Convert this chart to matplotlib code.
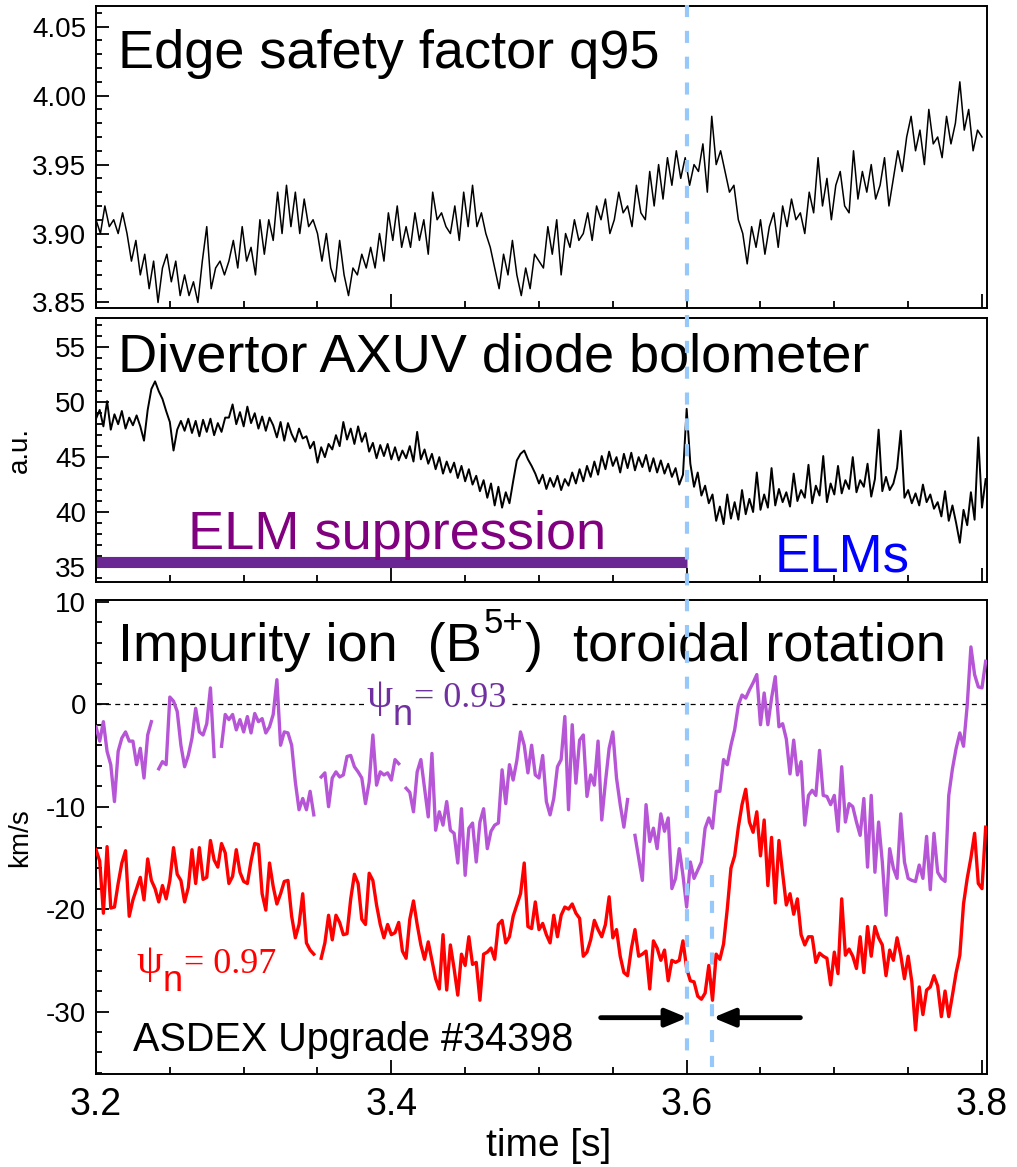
import numpy as np
import matplotlib
matplotlib.use("Agg")
import matplotlib.pyplot as plt
from matplotlib.ticker import MultipleLocator
from matplotlib.lines import Line2D
from matplotlib.transforms import blended_transform_factory

plt.rcParams['font.family'] = ['Liberation Sans', 'DejaVu Sans']
plt.rcParams['axes.unicode_minus'] = False

nan = float('nan')

# edge safety factor q95, sampled every 3 ms from 3.2 s to 3.8 s
q95 = [
    3.91, 3.90, 3.92, 3.905, 3.91, 3.90, 3.915, 3.90, 3.88, 3.895,
    3.87, 3.885, 3.86, 3.88, 3.85, 3.875, 3.885, 3.865, 3.88, 3.855,
    3.87, 3.855, 3.865, 3.85, 3.88, 3.905, 3.86, 3.875, 3.88, 3.87,
    3.88, 3.895, 3.875, 3.905, 3.88, 3.89, 3.87, 3.91, 3.885, 3.91,
    3.895, 3.93, 3.90, 3.935, 3.905, 3.93, 3.90, 3.925, 3.905, 3.91,
    3.90, 3.88, 3.90, 3.875, 3.865, 3.895, 3.87, 3.855, 3.875, 3.87,
    3.885, 3.875, 3.89, 3.875, 3.90, 3.88, 3.915, 3.895, 3.92, 3.89,
    3.905, 3.89, 3.915, 3.895, 3.91, 3.885, 3.93, 3.91, 3.915, 3.905,
    3.90, 3.92, 3.895, 3.93, 3.905, 3.935, 3.905, 3.915, 3.90, 3.89,
    3.875, 3.86, 3.885, 3.87, 3.895, 3.87, 3.855, 3.875, 3.86, 3.885,
    3.88, 3.875, 3.905, 3.885, 3.91, 3.87, 3.90, 3.89, 3.91, 3.895,
    3.90, 3.915, 3.895, 3.92, 3.91, 3.925, 3.90, 3.91, 3.93, 3.915,
    3.92, 3.905, 3.935, 3.915, 3.91, 3.945, 3.92, 3.95, 3.925, 3.955,
    3.935, 3.96, 3.94, 3.955, 3.935, 3.95, 3.945, 3.965, 3.93, 3.985,
    3.95, 3.96, 3.945, 3.93, 3.935, 3.91, 3.90, 3.878, 3.905, 3.89,
    3.91, 3.885, 3.905, 3.915, 3.89, 3.92, 3.905, 3.925, 3.91, 3.915,
    3.90, 3.93, 3.915, 3.955, 3.92, 3.94, 3.91, 3.935, 3.945, 3.92,
    3.915, 3.96, 3.925, 3.945, 3.93, 3.95, 3.925, 3.935, 3.955, 3.92,
    3.94, 3.96, 3.945, 3.97, 3.985, 3.96, 3.975, 3.95, 3.99, 3.965,
    3.97, 3.955, 3.985, 3.965, 3.98, 4.01, 3.975, 3.99, 3.96, 3.975,
    3.97,
]

# divertor AXUV diode bolometer (a.u.), every 2.5 ms
bolo = [
    48.5, 49.3, 47.8, 50.1, 47.5, 48.9, 48.0, 49.2, 47.6, 48.6, 47.9, 48.8,
    47.8, 46.5, 49.3, 51.2, 51.9, 51.0, 50.3, 49.2, 48.2, 45.6, 47.5, 48.3,
    47.4, 48.5, 47.2, 48.3, 46.9, 48.4, 47.3, 48.5, 47.0, 48.1, 47.3, 48.6,
    48.6, 49.8, 48.0, 49.1, 47.8, 49.6, 48.1, 49.0, 47.6, 48.7, 47.4, 48.6,
    47.9, 46.8, 48.2, 46.5, 48.1, 47.1, 46.4, 47.6, 46.7, 46.9, 45.8, 46.4,
    44.5, 45.9, 45.0, 46.2, 45.7, 47.0, 46.0, 48.2, 46.6, 47.6, 46.2, 47.8,
    46.4, 47.2, 45.5, 46.3, 44.9, 46.1, 45.1, 46.2, 44.8, 45.9, 44.7, 45.6,
    44.9, 46.0, 44.6, 47.3, 44.8, 45.7, 44.4, 45.3, 43.9, 45.0, 43.5, 44.6,
    43.6, 44.5, 43.1, 44.2, 42.8, 43.9, 42.5, 43.3, 41.9, 42.9, 41.3, 42.6,
    40.6, 42.3, 40.4, 41.8, 40.8, 42.8, 44.7, 45.3, 45.6, 44.8, 44.2, 43.5,
    42.6, 43.4, 42.1, 43.1, 42.3, 43.3, 42.0, 43.0, 42.4, 43.6, 42.6, 43.9,
    42.8, 44.2, 43.2, 44.6, 43.4, 45.1, 43.9, 45.5, 44.2, 45.0, 43.6, 45.3,
    44.0, 45.4, 43.8, 45.0, 44.1, 45.2, 43.7, 44.9, 43.6, 44.7, 43.5, 44.4,
    43.2, 44.0, 42.5, 43.4, 49.4, 44.4, 42.3, 43.6, 41.5, 42.4, 40.8, 41.6,
    39.2, 40.5, 38.9, 41.6, 39.4, 40.9, 39.3, 42.0, 39.8, 41.2, 40.0, 43.6,
    40.2, 41.6, 40.4, 44.0, 40.6, 42.1, 40.9, 41.8, 40.5, 43.5, 41.0, 42.0,
    41.3, 44.3, 40.8, 42.4, 41.5, 45.1, 40.9, 42.6, 41.6, 44.2, 41.7, 42.9,
    42.1, 45.0, 41.8, 42.9, 42.3, 44.4, 41.4, 43.0, 47.5, 41.9, 43.2, 42.0,
    42.6, 44.0, 47.4, 41.3, 42.0, 40.8, 41.7, 40.6, 42.5, 40.9, 41.6, 40.3,
    40.9, 39.6, 41.9, 39.2, 40.6, 39.0, 37.2, 40.2, 38.8, 41.8, 39.3, 46.8,
    40.4, 43.0,
]

# B5+ toroidal rotation (km/s) at psi_n = 0.93 and 0.97, every 2.5 ms
vrot_093 = [
    -2.2, -3.6, -1.7, -4.6, -5.9, -9.5, -4.6, -3.3, -2.7, -3.6,
    -3.6, -5.9, -4.3, -7.2, -3.0, -1.7, nan, -6.3, -5.6, -5.9,
    0.7, 0.3, -0.7, -4.0, -6.1, -5.0, -3.3, -0.4, -2.7, -3.0,
    -1.9, 1.6, -5.1, nan, -4.1, -1.0, -1.5, -1.0, -2.5, -1.5,
    -2.7, -1.2, -2.8, -0.9, -1.7, -1.4, -2.8, -2.2, -1.0, 2.4,
    -4.0, -2.7, -2.8, -4.0, -7.6, -10.3, -9.2, -10.3, -8.5, -10.8,
    nan, -7.1, -6.7, -10.0, -7.2, -6.6, -7.1, -6.9, -5.1, -5.0,
    -6.1, -6.6, -7.2, -9.7, -7.6, -3.0, -7.9, -6.6, -6.9, -6.7,
    -7.4, -5.4, -5.8, nan, -8.2, -8.6, -10.5, -6.6, -5.4, -8.2,
    -11.0, -4.8, -12.3, -10.5, -11.8, -9.5, -12.3, -12.6, -15.5, -10.2,
    -16.7, -12.1, -11.6, -15.4, -11.5, -10.2, -14.1, -12.4, -11.8, -11.6,
    -6.4, -9.7, -5.9, -7.4, -5.5, -2.7, -4.0, -6.7, -4.0, -6.9,
    -7.2, -5.0, -9.5, -10.8, -9.2, -6.1, -5.4, -1.2, -10.3, -2.0,
    -7.7, -3.5, -3.0, -9.0, -6.9, -7.9, -3.6, -11.3, -7.6, -4.3,
    -2.7, -7.2, -9.8, -12.0, -9.3, nan, -12.8, -15.0, -17.2, -9.8,
    -13.4, -12.1, -14.1, -10.7, -12.4, -11.1, -18.0, -17.0, -14.1, -16.7,
    -19.8, -15.4, -17.0, -16.2, -15.4, -12.1, -11.1, -12.1, -8.5, -8.5,
    -5.4, -5.9, -4.0, -2.5, -0.1, 0.9, 0.6, 1.4, 2.1, 2.9,
    -2.0, 1.1, -2.0, 0.6, 2.7, -2.2, -1.9, -3.4, -6.8, -3.5,
    -6.9, -5.6, -11.8, -8.9, -8.4, -8.9, -4.5, -8.9, -9.0, -9.8,
    -8.9, -12.4, -6.1, -11.5, -9.7, -10.0, -11.5, -12.8, -9.2, -15.9,
    -8.9, -16.4, -11.5, -15.4, -20.6, -14.1, -16.0, -17.0, -10.7, -15.4,
    -17.0, -17.2, -17.3, -15.7, -17.0, -12.9, -18.1, -12.6, -16.4, -17.0,
    -17.3, -8.9, -6.3, -4.3, -2.8, -4.1, -0.1, 5.6, 2.9, 1.7,
    1.6, 4.2,
]

vrot_097 = [
    -14.2, -15.3, -20.4, -13.9, -19.9, -19.8, -17.5, -15.5, -14.3, -20.7,
    -19.1, -18.0, -16.9, -19.1, -15.1, -17.2, -18.0, -19.3, -17.7, -19.0,
    -17.2, -14.0, -16.6, -17.2, -19.3, -17.9, -14.2, -17.5, -14.0, -17.1,
    -16.9, -13.3, -15.2, -15.9, -13.6, -14.5, -17.5, -16.8, -14.2, -16.4,
    -17.3, -17.5, -15.3, -13.6, -13.7, -18.5, -20.1, -15.5, -17.8, -19.5,
    -18.5, -17.3, -17.2, -20.7, -22.8, -21.5, -18.5, -23.3, -24.0, -24.4,
    nan, -24.8, -23.3, -20.6, -23.0, -20.6, -21.3, -22.5, -22.4, -19.0,
    -16.6, -17.5, -21.0, -21.5, -16.5, -17.2, -19.6, -21.5, -22.8, -21.5,
    -22.5, -22.3, -21.3, -24.1, -24.8, -21.0, -19.2, -21.5, -23.5, -24.9,
    -23.2, -25.0, -26.8, -27.8, -22.5, -27.9, -23.5, -25.8, -28.4, -24.4,
    -25.5, -22.7, -25.4, -25.2, -28.9, -24.4, -24.2, -23.8, -24.9, -21.5,
    -21.1, -23.3, -22.7, -20.7, -19.6, -18.5, -15.5, -21.7, -21.9, -19.3,
    -22.0, -21.4, -22.5, -23.3, -20.6, -22.7, -20.6, -19.8, -20.0, -19.5,
    -20.4, -20.9, -24.6, -24.2, -23.0, -21.1, -22.0, -22.7, -21.5, -18.8,
    -22.8, -22.0, -24.6, -26.2, -26.5, -23.9, -22.0, -24.6, -24.4, -24.1,
    -27.8, -23.1, -23.8, -25.0, -24.0, -27.0, -25.0, -25.2, -25.0, -23.1,
    -25.8, -27.0, -27.1, -28.5, -28.8, -28.2, -25.5, -28.9, -24.4, -24.9,
    -23.4, -20.0, -16.0, -14.8, -12.0, -9.8, -8.3, -11.5, -12.5, -10.5,
    -14.8, -11.3, -17.7, -13.0, -19.4, -13.3, -16.5, -19.6, -18.5, -20.5,
    -19.0, -22.5, -23.5, -22.7, -22.7, -25.2, -24.3, -24.6, -24.8, -27.4,
    -24.2, -26.3, -19.0, -24.5, -23.9, -24.6, -25.8, -22.7, -26.2, -21.7,
    -24.6, -21.7, -22.8, -23.5, -26.5, -24.0, -25.0, -22.8, -24.5, -26.8,
    -24.6, -27.1, -31.8, -27.6, -30.3, -27.9, -27.6, -26.5, -27.5, -30.5,
    -28.0, -30.5, -28.4, -26.2, -24.5, -19.5, -17.0, -15.0, -12.6, -17.5,
    -18.0, -12.0,
]

t_q95 = 3.2 + 0.003 * np.arange(len(q95))
t_fast = 3.2 + 0.0025 * np.arange(len(bolo))
t_rot = 3.2 + 0.0025 * np.arange(len(vrot_093))

t_elm = 3.6          # end of ELM suppression
t_cer = 3.6174       # next rotation time slice

fig = plt.figure(figsize=(10.17, 11.67), dpi=100)
ax1 = fig.add_axes([0.0944, 0.73608, 0.8761, 0.25878])
ax2 = fig.add_axes([0.0944, 0.50103, 0.8761, 0.22674])
ax3 = fig.add_axes([0.0944, 0.07969, 0.8761, 0.40591])

for ax in (ax1, ax2, ax3):
    ax.set_xlim(3.2, 3.8034)
    ax.xaxis.set_major_locator(MultipleLocator(0.2))
    ax.xaxis.set_minor_locator(MultipleLocator(0.05))
    for s in ax.spines.values():
        s.set_linewidth(1.4)
    ax.tick_params(which='both', direction='in', top=False, right=False,
                   width=1.3, labelsize=20)
    ax.tick_params(axis='y', which='major', length=9.5, pad=7)
    ax.tick_params(axis='y', which='minor', length=4.5)
    ax.tick_params(axis='x', which='major', length=10, pad=9, labelsize=27)
    ax.tick_params(axis='x', which='minor', length=5)

ax1.tick_params(axis='x', labelbottom=False)
ax2.tick_params(axis='x', labelbottom=False)

# top: q95
ax1.plot(t_q95, q95, color='black', lw=1.1)
ax1.set_ylim(3.846, 4.065)
ax1.yaxis.set_major_locator(MultipleLocator(0.05))
ax1.yaxis.set_minor_locator(MultipleLocator(0.01))
ax1.yaxis.set_major_formatter(plt.FormatStrFormatter('%.2f'))
ax1.text(3.2148, 4.0198, 'Edge safety factor q95', fontsize=39, va='baseline')

# middle: bolometer
ax2.plot(t_fast, bolo, color='black', lw=1.4)
ax2.set_ylim(33.6, 57.7)
ax2.yaxis.set_major_locator(MultipleLocator(5))
ax2.yaxis.set_minor_locator(MultipleLocator(1))
ax2.set_ylabel('a.u.', fontsize=20)
ax2.yaxis.set_label_coords(-0.071, 0.5)
ax2.text(3.2148, 52.8, 'Divertor AXUV diode bolometer', fontsize=39, va='baseline')
ax2.plot([3.2, t_elm], [35.45, 35.45], color='#6a2692', lw=8, solid_capstyle='butt')
ax2.text(3.262, 36.66, 'ELM suppression', fontsize=39, color='#800080', va='baseline')
ax2.text(3.6593, 34.6, 'ELMs', fontsize=38, color='#0000ff', va='baseline')

# bottom: toroidal rotation
zero_dash = dict(color='black', lw=0.9, ls=(0, (4, 3.5)), zorder=1)
ax3.plot([3.2, 3.3825], [0, 0], **zero_dash)
ax3.plot([3.482, 3.8034], [0, 0], **zero_dash)
ax3.plot(t_rot, vrot_093, color='#b655d6', lw=2.4, zorder=3)
ax3.plot(t_rot, vrot_097, color='#ff0000', lw=2.4, zorder=3)
ax3.set_ylim(-36.1, 10.15)
ax3.yaxis.set_major_locator(MultipleLocator(10))
ax3.yaxis.set_minor_locator(MultipleLocator(2))
ax3.set_ylabel('km/s', fontsize=20)
ax3.yaxis.set_label_coords(-0.071, 0.5)
ax3.set_xlabel('time [s]', fontsize=28)
ax3.xaxis.set_label_coords(0.508, -0.113)

# panel title with the charge state as a raised superscript
title_a = ax3.text(3.2148, 4.23, 'Impurity ion  (B', fontsize=39, va='baseline')
title_b = ax3.annotate('5+', xy=(1, 4.23), xycoords=(title_a, 'data'),
                       xytext=(1.5, 20), textcoords='offset points',
                       fontsize=25, va='baseline')
ax3.annotate(')  toroidal rotation', xy=(1, 4.23), xycoords=(title_b, 'data'),
             xytext=(1, 0), textcoords='offset points', fontsize=39, va='baseline')


def psi_label(x, y, value, color):
    # psi with a full-size, lowered sans-serif "n" subscript
    p = ax3.text(x, y, '\u03c8', family='Liberation Serif', fontsize=30,
                 color=color, va='baseline', zorder=4)
    n = ax3.annotate('n', xy=(1, y), xycoords=(p, 'data'), xytext=(0, -13),
                     textcoords='offset points', fontsize=26, color=color,
                     va='baseline', zorder=4)
    ax3.annotate('= ' + value, xy=(1, y), xycoords=(n, 'data'), xytext=(1, 0),
                 textcoords='offset points', family='Liberation Serif',
                 fontsize=26, color=color, va='baseline', zorder=4)


psi_label(3.383, -0.3, '0.93', '#7030a0')
psi_label(3.2276, -26.2, '0.97', '#ff0000')

ax3.text(3.2249, -33.9, 'ASDEX Upgrade #34398', fontsize=28.5, va='baseline')

# time window between the two rotation slices
ax3.plot([t_cer, t_cer], [-16.7, -35.4], color='#96c8fa', lw=3,
         ls=(0, (2.9, 3.3)), zorder=2)
arrow = dict(arrowstyle='-|>,head_length=0.65,head_width=0.27', lw=3.5,
             color='black', shrinkA=0, shrinkB=0, mutation_scale=20)
ax3.annotate('', xy=(3.6005, -30.6), xytext=(3.5418, -30.6), arrowprops=arrow)
ax3.annotate('', xy=(3.6178, -30.6), xytext=(3.677, -30.6), arrowprops=arrow)

# dashed marker at the end of ELM suppression, through all panels
trans = blended_transform_factory(ax3.transData, fig.transFigure)
fig.add_artist(Line2D([t_elm, t_elm], [0.9957, 0.0917], transform=trans,
                      color='#96c8fa', lw=3, ls=(0, (2.9, 3.3)), zorder=5))

fig.savefig('out.png', dpi=100)
